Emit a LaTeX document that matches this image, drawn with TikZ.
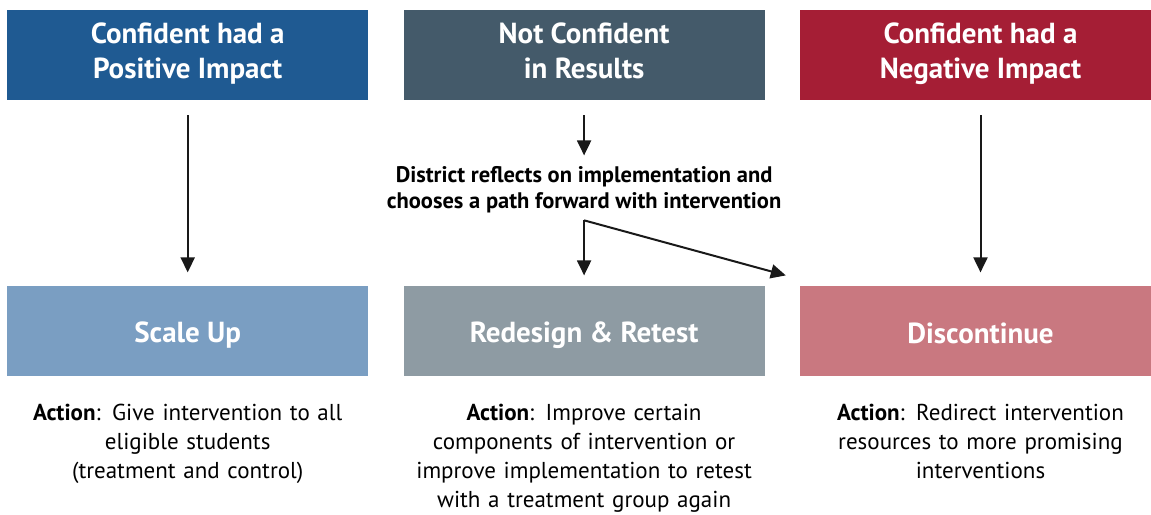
\documentclass[tikz,border=0pt]{standalone}
\usepackage{fontspec}
\setmainfont{PT Sans}
\usetikzlibrary{positioning,arrows.meta}

\definecolor{posblue}{HTML}{1F5A92}
\definecolor{notslate}{HTML}{445A6A}
\definecolor{negred}{HTML}{A51E35}
\definecolor{scaleblue}{HTML}{7A9EC2}
\definecolor{retestgray}{HTML}{8E9BA3}
\definecolor{discpink}{HTML}{C97880}

\begin{document}
\begin{tikzpicture}[
		>={Triangle[width=14pt,length=15pt]},
		every node/.append style={
			inner sep=0pt,
			align=center,
		},
		header/.style={minimum width=361pt,minimum height=90pt,text=white,
			font=\fontsize{29}{35}\selectfont\bfseries,
			execute at begin node=\rule[-8.5pt]{0pt}{35pt},
			execute at end node=\rule[-8.5pt]{0pt}{35pt}},
		result/.style={minimum width=361pt,minimum height=90pt,text=white,
			font=\fontsize{29}{35}\selectfont\bfseries,
			execute at begin node=\rule[-4pt]{0pt}{34pt}},
		action/.style={text width=361pt,font=\fontsize{23}{29}\selectfont},
		link/.style={->,line width=2pt,black!90},
	]
	\useasboundingbox (0pt,0pt) rectangle (1151pt,-514pt);
	% top row
	\node[header,fill=posblue,anchor=north west] (posimpact) at (7pt,-10pt)
		{Confident had a\\Positive Impact};
	\node[header,fill=notslate] (notconf) [right=35pt of posimpact] {Not Confident\\in Results};
	\node[header,fill=negred] (negimpact) [right=35pt of notconf] {Confident had a\\Negative Impact};
	% bottom row
	\node[result,fill=scaleblue] (scaleup) [below=185pt of posimpact] {Scale Up};
	\node[result,fill=retestgray] (redesign) [below=185pt of notconf] {Redesign \& Retest};
	\node[result,fill=discpink] (discont) [below=185pt of negimpact] {Discontinue};
	% middle text
	\node[font=\fontsize{22.5}{26}\selectfont\bfseries] (reflect) [below=66pt of notconf]
		{District reflects on implementation and\\chooses a path forward with intervention};
	\coordinate (fork) at ([yshift=-7pt]reflect.south);
	\coordinate (discin) at ([xshift=-14pt,yshift=10pt]discont.north west);
	% action texts
	\node[action,anchor=north] (scaletxt) at ([yshift=-28pt]scaleup.south)
		{\textbf{Action}: Give intervention to all\\eligible students\\(treatment and control)};
	\node[action,anchor=north] (retesttxt) at ([yshift=-28pt]redesign.south)
		{\textbf{Action}: Improve certain\\components of intervention or\\improve implementation to retest\\with a treatment group again};
	\node[action,anchor=north] (disctxt) at ([yshift=-28pt]discont.south)
		{\textbf{Action}: Redirect intervention\\resources to more promising\\interventions};
	% connectors
	\draw[link] ([yshift=-15pt]posimpact.south) -- ([yshift=13pt]scaleup.north);
	\draw[link] ([yshift=-15pt]negimpact.south) -- ([yshift=13pt]discont.north);
	\draw[link] ([yshift=-15pt]notconf.south) -- ([yshift=-55pt]notconf.south);
	\draw[link] (fork) -- ([yshift=10pt]redesign.north);
	\draw[link] (fork) -- (discin);
\end{tikzpicture}
\end{document}
